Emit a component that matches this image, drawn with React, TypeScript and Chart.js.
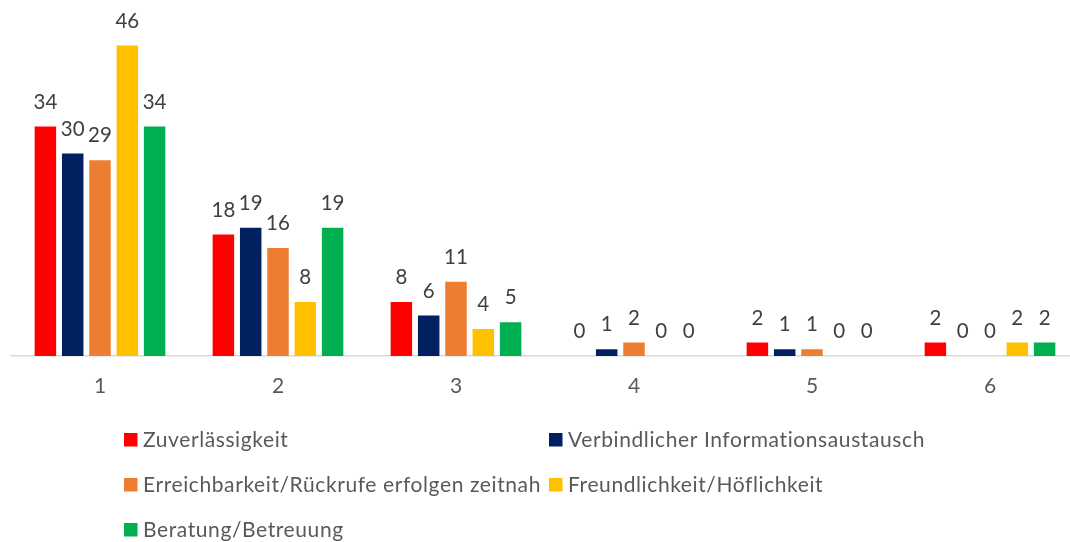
import React, { useEffect, useRef } from "react";
import { Chart, registerables } from "chart.js";

Chart.register(...registerables);

const categories = ["1", "2", "3", "4", "5", "6"];
const seriesNames = [
  "Zuverlässigkeit",
  "Verbindlicher Informationsaustausch",
  "Erreichbarkeit/Rückrufe erfolgen zeitnah",
  "Freundlichkeit/Höflichkeit",
  "Beratung/Betreuung",
];
const zuverlaessigkeit = [34, 18, 8, 0, 2, 2];
const informationsaustausch = [30, 19, 6, 1, 1, 0];
const erreichbarkeit = [29, 16, 11, 2, 1, 0];
const freundlichkeit = [46, 8, 4, 0, 0, 2];
const beratung = [34, 19, 5, 0, 0, 2];
const seriesColors = ["#FF0000", "#002060", "#ED7D31", "#FFC000", "#00B050"];
const yMin = 0;
const yMax = 50;

const FONT = "Lato, 'Open Sans', sans-serif";

const dataLabelPlugin = {
  id: "dataLabels",
  afterDatasetsDraw(chart: any) {
    const ctx = chart.ctx;
    ctx.save();
    ctx.font = `20.5px ${FONT}`;
    ctx.fillStyle = "#404040";
    ctx.textAlign = "center";
    ctx.textBaseline = "alphabetic";
    chart.data.datasets.forEach((ds: any, i: number) => {
      const meta = chart.getDatasetMeta(i);
      meta.data.forEach((el: any, j: number) => {
        ctx.fillText(String(ds.data[j]), el.x, el.y - 18);
      });
    });
    ctx.restore();
  },
};

const legendPlugin = {
  id: "customLegend",
  afterDraw(chart: any) {
    const ctx = chart.ctx;
    const cols = [124, 549];
    const rows = [433, 478, 523];
    const size = 13.5;
    ctx.save();
    ctx.font = `21px ${FONT}`;
    try {
      (ctx as any).letterSpacing = "0.6px";
    } catch (e) {}
    ctx.textAlign = "left";
    ctx.textBaseline = "alphabetic";
    seriesNames.forEach((name, i) => {
      const x = cols[i % 2];
      const y = rows[Math.floor(i / 2)];
      ctx.fillStyle = seriesColors[i];
      ctx.fillRect(x, y, size, size);
      ctx.fillStyle = "#595959";
      ctx.fillText(name, x + 19, y + 13.7);
    });
    ctx.restore();
  },
};

export default function App() {
  const ref = useRef<HTMLCanvasElement | null>(null);
  useEffect(() => {
    if (!ref.current) return;
    const values = [zuverlaessigkeit, informationsaustausch, erreichbarkeit, freundlichkeit, beratung];
    const chart = new Chart(ref.current, {
      type: "bar",
      data: {
        labels: categories,
        datasets: seriesNames.map((name, i) => ({
          label: name,
          data: values[i],
          backgroundColor: seriesColors[i],
          borderWidth: 0,
          categoryPercentage: 0.767,
          barPercentage: 0.787,
        })),
      },
      options: {
        responsive: false,
        animation: false,
        devicePixelRatio: 1,
        layout: { padding: { left: 11, right: 11, top: 18.5, bottom: 136 } },
        plugins: {
          legend: { display: false },
          tooltip: { enabled: false },
        },
        scales: {
          x: {
            grid: { display: false, drawTicks: false },
            border: { display: true, color: "#D9D9D9", width: 1.5 },
            ticks: {
              color: "#595959",
              font: { family: FONT, size: 21 },
              padding: 18,
            },
            afterFit: (s: any) => {
              s.height = 50;
            },
          },
          y: {
            display: false,
            min: yMin,
            max: yMax,
          },
        },
      },
      plugins: [dataLabelPlugin, legendPlugin],
    });
    return () => chart.destroy();
  }, []);
  return (
    <div
      style={{
        position: "fixed",
        left: 0,
        top: 0,
        width: 1070,
        height: 542,
        overflow: "hidden",
        background: "#FFFFFF",
      }}
    >
      <canvas ref={ref} width={1090} height={542} style={{ width: 1090, height: 542, display: "block" }} />
    </div>
  );
}
